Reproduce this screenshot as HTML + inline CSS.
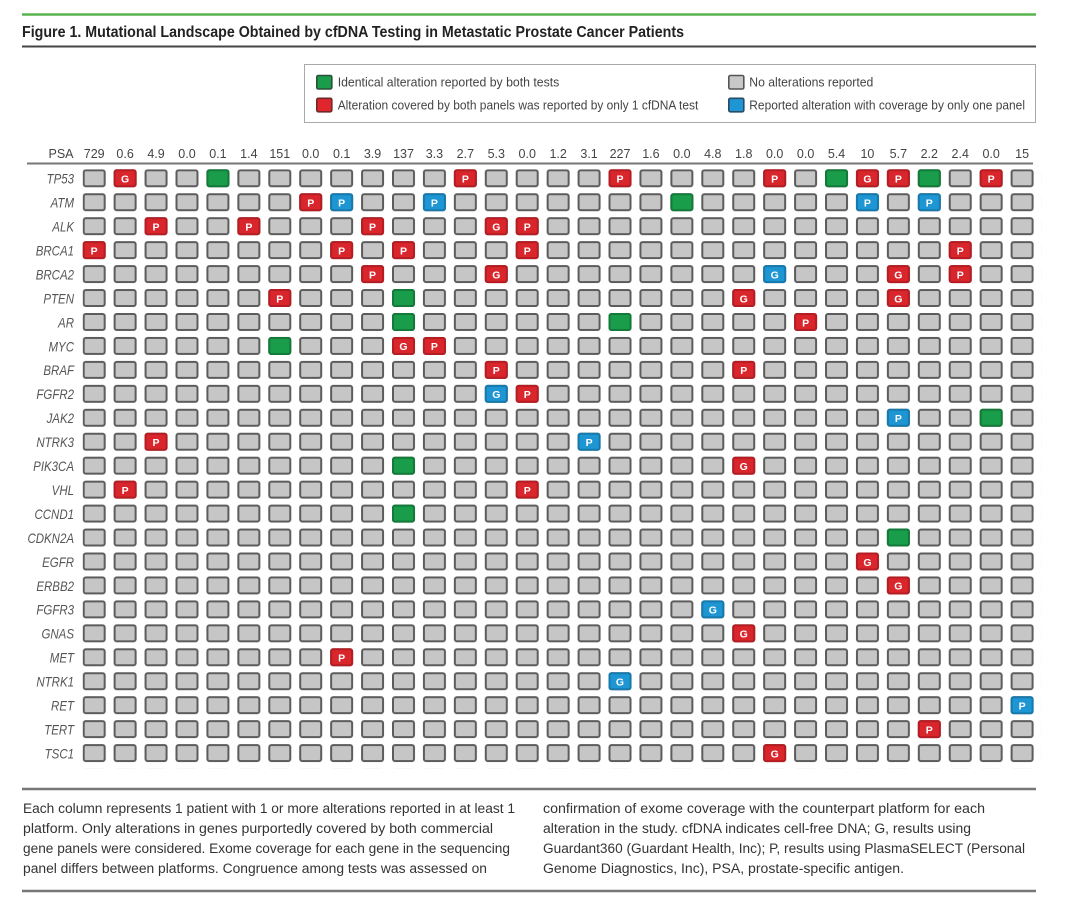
<!DOCTYPE html>
<html>
<head>
<meta charset="utf-8">
<style>
html,body{margin:0;padding:0;background:#fff;}
svg{display:block;}
.t{font-family:"Liberation Sans",sans-serif;}
.gl{font-family:"Liberation Sans",sans-serif;font-style:italic;font-size:14px;fill:#555;text-anchor:end;}
.psa{font-family:"Liberation Sans",sans-serif;font-size:12.5px;fill:#444;text-anchor:middle;}
.cl text{font-family:"Liberation Sans",sans-serif;font-weight:bold;font-size:10.5px;fill:#fff;text-anchor:middle;}
.r{fill:#d9262c;stroke:#b51d23;stroke-width:2;}
.g{fill:#1a9d4a;stroke:#137a39;stroke-width:2;}
.b{fill:#1d96d3;stroke:#167aad;stroke-width:2;}
.leg{font-family:"Liberation Sans",sans-serif;font-size:12.5px;fill:#444;}
.body{font-family:"Liberation Sans",sans-serif;font-size:13.5px;fill:#333;}
</style>
</head>
<body>
<svg width="1080" height="899" viewBox="0 0 1080 899" xmlns="http://www.w3.org/2000/svg">
<defs>
<pattern id="cell" patternUnits="userSpaceOnUse" x="82.7" y="169.3" width="30.93" height="23.95">
<rect x="1" y="1" width="21" height="16" rx="2" fill="#c6c6c6" stroke="#5c5c5c" stroke-width="2"/>
</pattern>
</defs>
<rect width="1080" height="899" fill="#fff"/>

<!-- header -->
<line x1="22" y1="14.5" x2="1036" y2="14.5" stroke="#58b44f" stroke-width="2.5"/>
<text class="t" x="22" y="37" font-size="16" font-weight="bold" fill="#222" textLength="662" lengthAdjust="spacingAndGlyphs">Figure 1. Mutational Landscape Obtained by cfDNA Testing in Metastatic Prostate Cancer Patients</text>
<line x1="22" y1="46.5" x2="1036" y2="46.5" stroke="#444" stroke-width="2"/>

<!-- legend -->
<rect x="304.5" y="64.5" width="731" height="58" fill="#fff" stroke="#aaa" stroke-width="1"/>
<rect x="316.8" y="75.5" width="15" height="13.5" rx="1.5" fill="#1a9d4a" stroke="#2d4f38" stroke-width="1.6"/>
<rect x="316.8" y="98.3" width="15" height="13.5" rx="1.5" fill="#e0262c" stroke="#6e2a2a" stroke-width="1.6"/>
<rect x="728.8" y="75.5" width="15" height="13.5" rx="1.5" fill="#c8c8c8" stroke="#555" stroke-width="1.6"/>
<rect x="728.8" y="98.3" width="15" height="13.5" rx="1.5" fill="#1d96d3" stroke="#2a4a66" stroke-width="1.6"/>
<text class="leg" x="337.7" y="86.5" textLength="221.6" lengthAdjust="spacingAndGlyphs">Identical alteration reported by both tests</text>
<text class="leg" x="337.7" y="109.3" textLength="360.6" lengthAdjust="spacingAndGlyphs">Alteration covered by both panels was reported by only 1 cfDNA test</text>
<text class="leg" x="749.3" y="86.5" textLength="124" lengthAdjust="spacingAndGlyphs">No alterations reported</text>
<text class="leg" x="749.3" y="109.3" textLength="275.7" lengthAdjust="spacingAndGlyphs">Reported alteration with coverage by only one panel</text>

<!-- PSA row -->
<text class="psa" x="73.5" y="158" text-anchor="end" style="text-anchor:end">PSA</text>
<text class="psa" x="94.2" y="158">729</text>
<text class="psa" x="125.13" y="158">0.6</text>
<text class="psa" x="156.06" y="158">4.9</text>
<text class="psa" x="186.99" y="158">0.0</text>
<text class="psa" x="217.92" y="158">0.1</text>
<text class="psa" x="248.85" y="158">1.4</text>
<text class="psa" x="279.78" y="158">151</text>
<text class="psa" x="310.71" y="158">0.0</text>
<text class="psa" x="341.64" y="158">0.1</text>
<text class="psa" x="372.57" y="158">3.9</text>
<text class="psa" x="403.5" y="158">137</text>
<text class="psa" x="434.43" y="158">3.3</text>
<text class="psa" x="465.36" y="158">2.7</text>
<text class="psa" x="496.29" y="158">5.3</text>
<text class="psa" x="527.22" y="158">0.0</text>
<text class="psa" x="558.15" y="158">1.2</text>
<text class="psa" x="589.08" y="158">3.1</text>
<text class="psa" x="620.01" y="158">227</text>
<text class="psa" x="650.94" y="158">1.6</text>
<text class="psa" x="681.87" y="158">0.0</text>
<text class="psa" x="712.8" y="158">4.8</text>
<text class="psa" x="743.73" y="158">1.8</text>
<text class="psa" x="774.66" y="158">0.0</text>
<text class="psa" x="805.59" y="158">0.0</text>
<text class="psa" x="836.52" y="158">5.4</text>
<text class="psa" x="867.45" y="158">10</text>
<text class="psa" x="898.38" y="158">5.7</text>
<text class="psa" x="929.31" y="158">2.2</text>
<text class="psa" x="960.24" y="158">2.4</text>
<text class="psa" x="991.17" y="158">0.0</text>
<text class="psa" x="1022.1" y="158">15</text>
<line x1="27" y1="163.5" x2="1033" y2="163.5" stroke="#777" stroke-width="2"/>

<!-- gene labels -->
<text class="gl" transform="translate(74,183.6) scale(0.82,1)">TP53</text>
<text class="gl" transform="translate(74,207.55) scale(0.82,1)">ATM</text>
<text class="gl" transform="translate(74,231.5) scale(0.82,1)">ALK</text>
<text class="gl" transform="translate(74,255.45) scale(0.82,1)">BRCA1</text>
<text class="gl" transform="translate(74,279.4) scale(0.82,1)">BRCA2</text>
<text class="gl" transform="translate(74,303.35) scale(0.82,1)">PTEN</text>
<text class="gl" transform="translate(74,327.3) scale(0.82,1)">AR</text>
<text class="gl" transform="translate(74,351.25) scale(0.82,1)">MYC</text>
<text class="gl" transform="translate(74,375.2) scale(0.82,1)">BRAF</text>
<text class="gl" transform="translate(74,399.15) scale(0.82,1)">FGFR2</text>
<text class="gl" transform="translate(74,423.1) scale(0.82,1)">JAK2</text>
<text class="gl" transform="translate(74,447.05) scale(0.82,1)">NTRK3</text>
<text class="gl" transform="translate(74,471) scale(0.82,1)">PIK3CA</text>
<text class="gl" transform="translate(74,494.95) scale(0.82,1)">VHL</text>
<text class="gl" transform="translate(74,518.9) scale(0.82,1)">CCND1</text>
<text class="gl" transform="translate(74,542.85) scale(0.82,1)">CDKN2A</text>
<text class="gl" transform="translate(74,566.8) scale(0.82,1)">EGFR</text>
<text class="gl" transform="translate(74,590.75) scale(0.82,1)">ERBB2</text>
<text class="gl" transform="translate(74,614.7) scale(0.82,1)">FGFR3</text>
<text class="gl" transform="translate(74,638.65) scale(0.82,1)">GNAS</text>
<text class="gl" transform="translate(74,662.6) scale(0.82,1)">MET</text>
<text class="gl" transform="translate(74,686.55) scale(0.82,1)">NTRK1</text>
<text class="gl" transform="translate(74,710.5) scale(0.82,1)">RET</text>
<text class="gl" transform="translate(74,734.45) scale(0.82,1)">TERT</text>
<text class="gl" transform="translate(74,758.4) scale(0.82,1)">TSC1</text>

<!-- gray grid -->
<rect x="82.7" y="169.3" width="958.83" height="598.75" fill="url(#cell)"/>

<!-- colored cells -->
<g class="cl">
<!-- TP53 -->
<g transform="translate(113.63,169.3)"><rect class="r" x="1" y="1" width="21" height="16" rx="2"/><text x="11.5" y="13.3">G</text></g>
<g transform="translate(206.42,169.3)"><rect class="g" x="1" y="1" width="21" height="16" rx="2"/></g>
<g transform="translate(453.86,169.3)"><rect class="r" x="1" y="1" width="21" height="16" rx="2"/><text x="11.5" y="13.3">P</text></g>
<g transform="translate(608.51,169.3)"><rect class="r" x="1" y="1" width="21" height="16" rx="2"/><text x="11.5" y="13.3">P</text></g>
<g transform="translate(763.16,169.3)"><rect class="r" x="1" y="1" width="21" height="16" rx="2"/><text x="11.5" y="13.3">P</text></g>
<g transform="translate(825.02,169.3)"><rect class="g" x="1" y="1" width="21" height="16" rx="2"/></g>
<g transform="translate(855.95,169.3)"><rect class="r" x="1" y="1" width="21" height="16" rx="2"/><text x="11.5" y="13.3">G</text></g>
<g transform="translate(886.88,169.3)"><rect class="r" x="1" y="1" width="21" height="16" rx="2"/><text x="11.5" y="13.3">P</text></g>
<g transform="translate(917.81,169.3)"><rect class="g" x="1" y="1" width="21" height="16" rx="2"/></g>
<g transform="translate(979.67,169.3)"><rect class="r" x="1" y="1" width="21" height="16" rx="2"/><text x="11.5" y="13.3">P</text></g>
<!-- ATM -->
<g transform="translate(299.21,193.25)"><rect class="r" x="1" y="1" width="21" height="16" rx="2"/><text x="11.5" y="13.3">P</text></g>
<g transform="translate(330.14,193.25)"><rect class="b" x="1" y="1" width="21" height="16" rx="2"/><text x="11.5" y="13.3">P</text></g>
<g transform="translate(422.93,193.25)"><rect class="b" x="1" y="1" width="21" height="16" rx="2"/><text x="11.5" y="13.3">P</text></g>
<g transform="translate(670.37,193.25)"><rect class="g" x="1" y="1" width="21" height="16" rx="2"/></g>
<g transform="translate(855.95,193.25)"><rect class="b" x="1" y="1" width="21" height="16" rx="2"/><text x="11.5" y="13.3">P</text></g>
<g transform="translate(917.81,193.25)"><rect class="b" x="1" y="1" width="21" height="16" rx="2"/><text x="11.5" y="13.3">P</text></g>
<!-- ALK -->
<g transform="translate(144.56,217.2)"><rect class="r" x="1" y="1" width="21" height="16" rx="2"/><text x="11.5" y="13.3">P</text></g>
<g transform="translate(237.35,217.2)"><rect class="r" x="1" y="1" width="21" height="16" rx="2"/><text x="11.5" y="13.3">P</text></g>
<g transform="translate(361.07,217.2)"><rect class="r" x="1" y="1" width="21" height="16" rx="2"/><text x="11.5" y="13.3">P</text></g>
<g transform="translate(484.79,217.2)"><rect class="r" x="1" y="1" width="21" height="16" rx="2"/><text x="11.5" y="13.3">G</text></g>
<g transform="translate(515.72,217.2)"><rect class="r" x="1" y="1" width="21" height="16" rx="2"/><text x="11.5" y="13.3">P</text></g>
<!-- BRCA1 -->
<g transform="translate(82.7,241.15)"><rect class="r" x="1" y="1" width="21" height="16" rx="2"/><text x="11.5" y="13.3">P</text></g>
<g transform="translate(330.14,241.15)"><rect class="r" x="1" y="1" width="21" height="16" rx="2"/><text x="11.5" y="13.3">P</text></g>
<g transform="translate(392,241.15)"><rect class="r" x="1" y="1" width="21" height="16" rx="2"/><text x="11.5" y="13.3">P</text></g>
<g transform="translate(515.72,241.15)"><rect class="r" x="1" y="1" width="21" height="16" rx="2"/><text x="11.5" y="13.3">P</text></g>
<g transform="translate(948.74,241.15)"><rect class="r" x="1" y="1" width="21" height="16" rx="2"/><text x="11.5" y="13.3">P</text></g>
<!-- BRCA2 -->
<g transform="translate(361.07,265.1)"><rect class="r" x="1" y="1" width="21" height="16" rx="2"/><text x="11.5" y="13.3">P</text></g>
<g transform="translate(484.79,265.1)"><rect class="r" x="1" y="1" width="21" height="16" rx="2"/><text x="11.5" y="13.3">G</text></g>
<g transform="translate(763.16,265.1)"><rect class="b" x="1" y="1" width="21" height="16" rx="2"/><text x="11.5" y="13.3">G</text></g>
<g transform="translate(886.88,265.1)"><rect class="r" x="1" y="1" width="21" height="16" rx="2"/><text x="11.5" y="13.3">G</text></g>
<g transform="translate(948.74,265.1)"><rect class="r" x="1" y="1" width="21" height="16" rx="2"/><text x="11.5" y="13.3">P</text></g>
<!-- PTEN -->
<g transform="translate(268.28,289.05)"><rect class="r" x="1" y="1" width="21" height="16" rx="2"/><text x="11.5" y="13.3">P</text></g>
<g transform="translate(392,289.05)"><rect class="g" x="1" y="1" width="21" height="16" rx="2"/></g>
<g transform="translate(732.23,289.05)"><rect class="r" x="1" y="1" width="21" height="16" rx="2"/><text x="11.5" y="13.3">G</text></g>
<g transform="translate(886.88,289.05)"><rect class="r" x="1" y="1" width="21" height="16" rx="2"/><text x="11.5" y="13.3">G</text></g>
<!-- AR -->
<g transform="translate(392,313)"><rect class="g" x="1" y="1" width="21" height="16" rx="2"/></g>
<g transform="translate(608.51,313)"><rect class="g" x="1" y="1" width="21" height="16" rx="2"/></g>
<g transform="translate(794.09,313)"><rect class="r" x="1" y="1" width="21" height="16" rx="2"/><text x="11.5" y="13.3">P</text></g>
<!-- MYC -->
<g transform="translate(268.28,336.95)"><rect class="g" x="1" y="1" width="21" height="16" rx="2"/></g>
<g transform="translate(392,336.95)"><rect class="r" x="1" y="1" width="21" height="16" rx="2"/><text x="11.5" y="13.3">G</text></g>
<g transform="translate(422.93,336.95)"><rect class="r" x="1" y="1" width="21" height="16" rx="2"/><text x="11.5" y="13.3">P</text></g>
<!-- BRAF -->
<g transform="translate(484.79,360.9)"><rect class="r" x="1" y="1" width="21" height="16" rx="2"/><text x="11.5" y="13.3">P</text></g>
<g transform="translate(732.23,360.9)"><rect class="r" x="1" y="1" width="21" height="16" rx="2"/><text x="11.5" y="13.3">P</text></g>
<!-- FGFR2 -->
<g transform="translate(484.79,384.85)"><rect class="b" x="1" y="1" width="21" height="16" rx="2"/><text x="11.5" y="13.3">G</text></g>
<g transform="translate(515.72,384.85)"><rect class="r" x="1" y="1" width="21" height="16" rx="2"/><text x="11.5" y="13.3">P</text></g>
<!-- JAK2 -->
<g transform="translate(886.88,408.8)"><rect class="b" x="1" y="1" width="21" height="16" rx="2"/><text x="11.5" y="13.3">P</text></g>
<g transform="translate(979.67,408.8)"><rect class="g" x="1" y="1" width="21" height="16" rx="2"/></g>
<!-- NTRK3 -->
<g transform="translate(144.56,432.75)"><rect class="r" x="1" y="1" width="21" height="16" rx="2"/><text x="11.5" y="13.3">P</text></g>
<g transform="translate(577.58,432.75)"><rect class="b" x="1" y="1" width="21" height="16" rx="2"/><text x="11.5" y="13.3">P</text></g>
<!-- PIK3CA -->
<g transform="translate(392,456.7)"><rect class="g" x="1" y="1" width="21" height="16" rx="2"/></g>
<g transform="translate(732.23,456.7)"><rect class="r" x="1" y="1" width="21" height="16" rx="2"/><text x="11.5" y="13.3">G</text></g>
<!-- VHL -->
<g transform="translate(113.63,480.65)"><rect class="r" x="1" y="1" width="21" height="16" rx="2"/><text x="11.5" y="13.3">P</text></g>
<g transform="translate(515.72,480.65)"><rect class="r" x="1" y="1" width="21" height="16" rx="2"/><text x="11.5" y="13.3">P</text></g>
<!-- CCND1 -->
<g transform="translate(392,504.6)"><rect class="g" x="1" y="1" width="21" height="16" rx="2"/></g>
<!-- CDKN2A -->
<g transform="translate(886.88,528.55)"><rect class="g" x="1" y="1" width="21" height="16" rx="2"/></g>
<!-- EGFR -->
<g transform="translate(855.95,552.5)"><rect class="r" x="1" y="1" width="21" height="16" rx="2"/><text x="11.5" y="13.3">G</text></g>
<!-- ERBB2 -->
<g transform="translate(886.88,576.45)"><rect class="r" x="1" y="1" width="21" height="16" rx="2"/><text x="11.5" y="13.3">G</text></g>
<!-- FGFR3 -->
<g transform="translate(701.3,600.4)"><rect class="b" x="1" y="1" width="21" height="16" rx="2"/><text x="11.5" y="13.3">G</text></g>
<!-- GNAS -->
<g transform="translate(732.23,624.35)"><rect class="r" x="1" y="1" width="21" height="16" rx="2"/><text x="11.5" y="13.3">G</text></g>
<!-- MET -->
<g transform="translate(330.14,648.3)"><rect class="r" x="1" y="1" width="21" height="16" rx="2"/><text x="11.5" y="13.3">P</text></g>
<!-- NTRK1 -->
<g transform="translate(608.51,672.25)"><rect class="b" x="1" y="1" width="21" height="16" rx="2"/><text x="11.5" y="13.3">G</text></g>
<!-- RET -->
<g transform="translate(1010.6,696.2)"><rect class="b" x="1" y="1" width="21" height="16" rx="2"/><text x="11.5" y="13.3">P</text></g>
<!-- TERT -->
<g transform="translate(917.81,720.15)"><rect class="r" x="1" y="1" width="21" height="16" rx="2"/><text x="11.5" y="13.3">P</text></g>
<!-- TSC1 -->
<g transform="translate(763.16,744.1)"><rect class="r" x="1" y="1" width="21" height="16" rx="2"/><text x="11.5" y="13.3">G</text></g>
</g>

<!-- footnote -->
<line x1="22" y1="789" x2="1036" y2="789" stroke="#777" stroke-width="2.5"/>
<text class="body" x="23" y="813" textLength="492" lengthAdjust="spacingAndGlyphs">Each column represents 1 patient with 1 or more alterations reported in at least 1</text>
<text class="body" x="23" y="833" textLength="470" lengthAdjust="spacingAndGlyphs">platform. Only alterations in genes purportedly covered by both commercial</text>
<text class="body" x="23" y="853" textLength="487" lengthAdjust="spacingAndGlyphs">gene panels were considered. Exome coverage for each gene in the sequencing</text>
<text class="body" x="23" y="873" textLength="464" lengthAdjust="spacingAndGlyphs">panel differs between platforms. Congruence among tests was assessed on</text>
<text class="body" x="543" y="813" textLength="442" lengthAdjust="spacingAndGlyphs">confirmation of exome coverage with the counterpart platform for each</text>
<text class="body" x="543" y="833" textLength="428" lengthAdjust="spacingAndGlyphs">alteration in the study. cfDNA indicates cell-free DNA; G, results using</text>
<text class="body" x="543" y="853" textLength="482" lengthAdjust="spacingAndGlyphs">Guardant360 (Guardant Health, Inc); P, results using PlasmaSELECT (Personal</text>
<text class="body" x="543" y="873" textLength="361" lengthAdjust="spacingAndGlyphs">Genome Diagnostics, Inc), PSA, prostate-specific antigen.</text>
<line x1="22" y1="891" x2="1036" y2="891" stroke="#777" stroke-width="2.5"/>
</svg>
</body>
</html>
